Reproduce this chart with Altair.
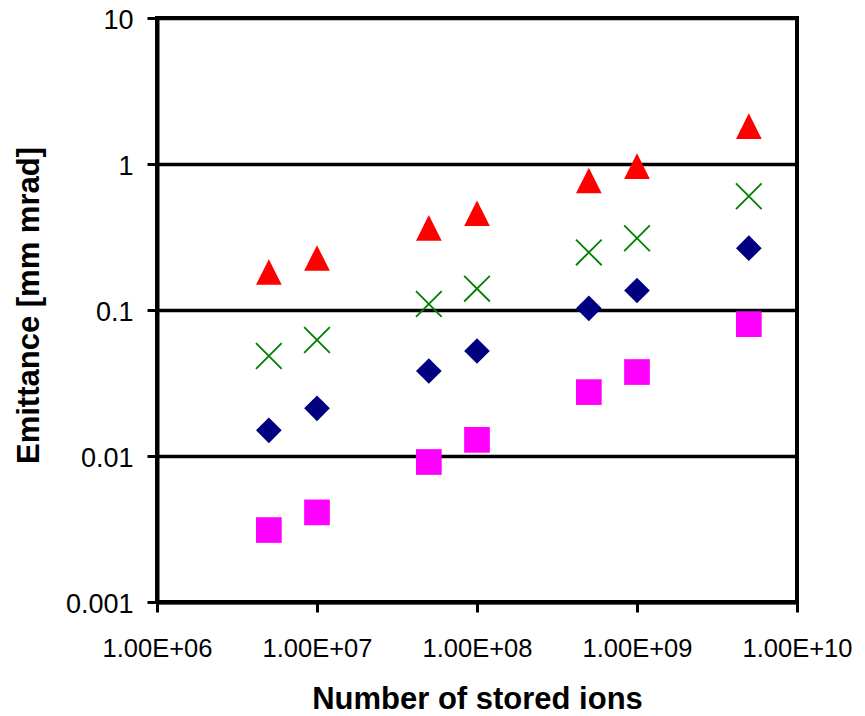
import altair as alt
import pandas as pd

ions = [5e6, 1e7, 5e7, 1e8, 5e8, 1e9, 5e9]
triangle_vals = [0.182, 0.227, 0.365, 0.46, 0.771, 0.966, 1.815]
cross_vals = [0.0484, 0.0623, 0.11, 0.14, 0.248, 0.310, 0.601]
diamond_vals = [0.0150, 0.0212, 0.0382, 0.0524, 0.1027, 0.136, 0.265]
square_vals = [0.00311, 0.00411, 0.0091, 0.0129, 0.0274, 0.0376, 0.080]

x_ticks = [1e6, 1e7, 1e8, 1e9, 1e10]
y_ticks = [0.001, 0.01, 0.1, 1, 10]

FONT = "Liberation Sans"

xscale = alt.Scale(type="log", domain=[1e6, 1e10], nice=False)
yscale = alt.Scale(type="log", domain=[0.001, 10], nice=False)

common = dict(
    labelFont=FONT,
    titleFont=FONT,
    labelColor="black",
    titleColor="black",
    titleFontSize=31,
    titleFontWeight="bold",
    domainColor="black",
    domainWidth=4,
    tickColor="black",
    tickWidth=3,
    tickSize=10,
    labelOverlap=False,
    labelBound=False,
    labelFlush=False,
)

xaxis = alt.Axis(
    title="Number of stored ions",
    values=x_ticks,
    grid=False,
    labelExpr="'1.00E+' + (round(log(datum.value)/LN10) < 10 ? '0' : '') + round(log(datum.value)/LN10)",
    labelFontSize=25.5,
    labelPadding=24,
    titleY=106,
    titleBaseline="alphabetic",
    **common,
)
yaxis = alt.Axis(
    title="Emittance [mm mrad]",
    values=y_ticks,
    grid=True,
    gridColor="black",
    gridWidth=3.5,
    gridOpacity=1,
    labelExpr="datum.value >= 1 ? format(datum.value, 'd') : format(datum.value, '.' + round(-log(datum.value)/LN10) + 'f')",
    labelFontSize=27,
    labelPadding=14,
    labelOffset=2,
    titleX=-119,
    titleY=287,
    titleBaseline="alphabetic",
    **common,
)


def series(vals, **mark):
    df = pd.DataFrame({"ions": ions, "emit": vals})
    return alt.Chart(df).mark_point(**mark).encode(
        x=alt.X("ions:Q", scale=xscale, axis=xaxis),
        y=alt.Y("emit:Q", scale=yscale, axis=yaxis),
    )


tri = series(triangle_vals, shape="M0,-1L1,1L-1,1Z", filled=True, color="#FF0000", size=660, opacity=1)
crs = series(cross_vals, shape="M-1,-1L1,1M1,-1L-1,1", filled=False, color="#008000", size=660, strokeWidth=1.8, opacity=1)
dia = series(diamond_vals, shape="diamond", filled=True, color="#000080", size=660, opacity=1)
sq = series(square_vals, shape="square", filled=True, color="#FF00FF", size=660, opacity=1)

chart = (
    alt.layer(sq, dia, crs, tri)
    .properties(
        width=640,
        height=584,
        autosize=alt.AutoSizeParams(type="none"),
        padding={"left": 157, "top": 18, "right": 68, "bottom": 114},
        background="white",
    )
    .configure_view(stroke="black", strokeWidth=4)
)

chart.save("out.html", embed_options={"renderer": "svg", "actions": False})
